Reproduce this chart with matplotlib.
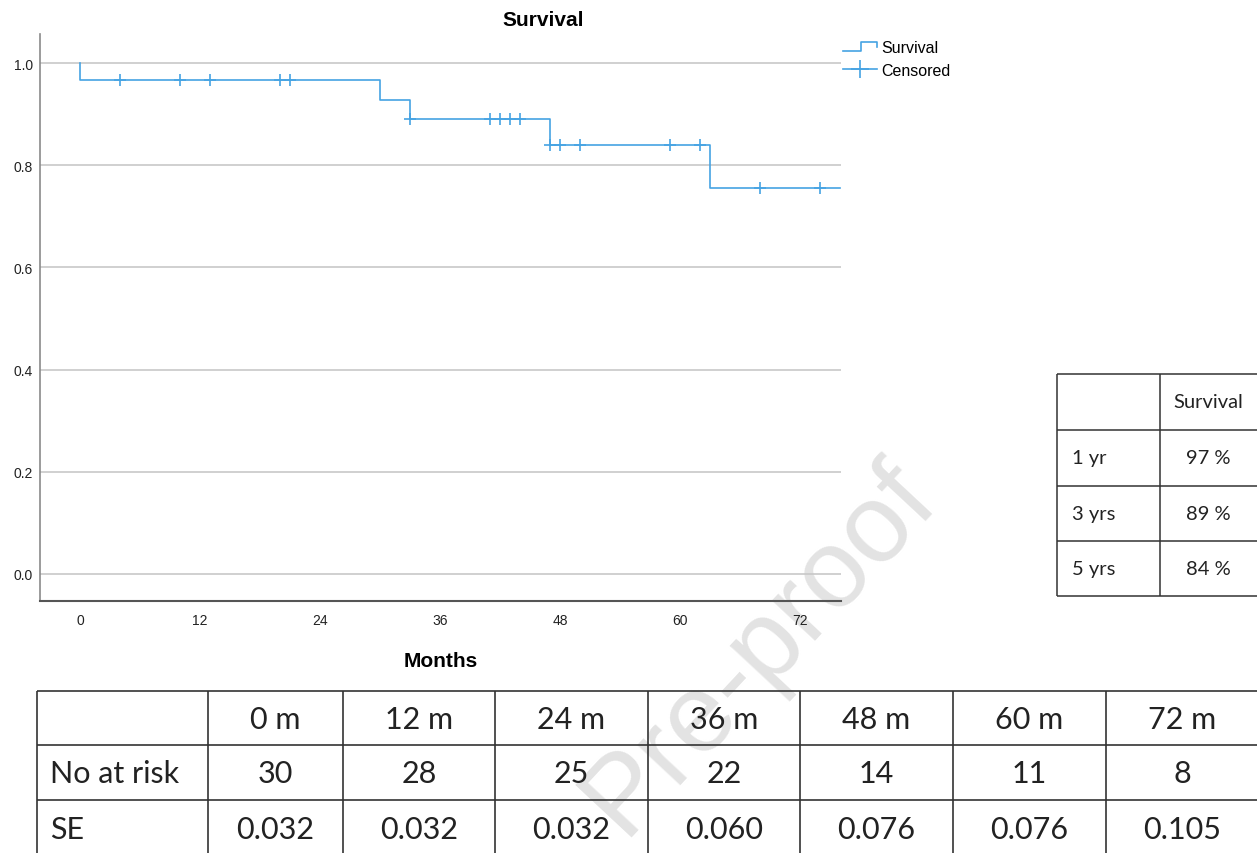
import numpy as np
import matplotlib
matplotlib.use("Agg")
import matplotlib.pyplot as plt
from matplotlib.legend_handler import HandlerBase
from matplotlib.lines import Line2D

# --- data ---
event_months = [0, 30, 33, 47, 63]
surv_after = [0.967, 0.928, 0.89, 0.84, 0.755]
last_month = 76
censor_months = [4, 10, 13, 20, 21, 33, 41, 42, 43, 44, 47, 48, 50, 59, 62, 68, 74]
x_ticks = [0, 12, 24, 36, 48, 60, 72]
y_ticks = [0.0, 0.2, 0.4, 0.6, 0.8, 1.0]

summary_head = "Survival"
summary_rows = ["1 yr", "3 yrs", "5 yrs"]
summary_vals = ["97 %", "89 %", "84 %"]

risk_cols = ["0 m", "12 m", "24 m", "36 m", "48 m", "60 m", "72 m"]
at_risk = [30, 28, 25, 22, 14, 11, 8]
se_vals = ["0.032", "0.032", "0.032", "0.060", "0.076", "0.076", "0.105"]

BLUE = "#45a3e3"
W, H = 1257, 854

fig = plt.figure(figsize=(W / 100, H / 100), dpi=100)

# overlay in pixel coords for the tables / watermark (kept under the plot)
ov = fig.add_axes([0, 0, 1, 1])
ov.set_xlim(0, W)
ov.set_ylim(H, 0)
ov.axis("off")
ov.set_zorder(0)

ax = fig.add_axes([40 / W, (H - 602) / H, (841 - 40) / W, (602 - 35) / H])
ax.set_zorder(1)
ax.set_facecolor("none")

# step curve
xs = [0] + event_months + [last_month]
ys = [1.0] + surv_after + [surv_after[-1]]
ax.step(xs, ys, where="post", color=BLUE, lw=1.2, zorder=3)

# censor marks sit on the curve
idx = np.searchsorted(event_months, censor_months, side="right") - 1
cy = [surv_after[i] if i >= 0 else 1.0 for i in idx]
ax.plot(censor_months, cy, ls="none", marker="+", ms=9, mew=1.2, color=BLUE, zorder=4)

ax.set_xlim(-4, 76.1)
ax.set_ylim(-27 / 511, 1 + 29 / 511)
ax.set_xticks(x_ticks)
ax.set_yticks(y_ticks)
ax.set_yticklabels([f"{v:.1f}" for v in y_ticks])
ax.tick_params(length=0, labelsize=10, colors="#222222")
ax.tick_params(axis="y", pad=5)
ax.tick_params(axis="x", pad=9)
for lab in ax.get_xticklabels() + ax.get_yticklabels():
    lab.set_family("Liberation Sans")
ax.yaxis.grid(True, color="#c8c8c8", lw=1.2)
ax.set_axisbelow(True)
for s in ("top", "right"):
    ax.spines[s].set_visible(False)
ax.spines["left"].set_color("#8a8a8a")
ax.spines["left"].set_linewidth(1.2)
ax.spines["bottom"].set_color("#555555")
ax.spines["bottom"].set_linewidth(1.5)

fig.text(543 / W, 1 - 20 / H, "Survival", ha="center", va="center",
         fontsize=15, fontweight="bold", family="Liberation Sans")
fig.text(441 / W, 1 - 662 / H, "Months", ha="center", va="center",
         fontsize=15, fontweight="bold", family="Liberation Sans")


# legend with a little step icon
class StepHandler(HandlerBase):
    def create_artists(self, legend, orig_handle, xdescent, ydescent,
                       width, height, fontsize, trans):
        x0 = -xdescent
        y0 = -ydescent
        px = [x0, x0 + 0.55 * width, x0 + 0.55 * width, x0 + width, x0 + width]
        py = [y0 + 0.1 * height, y0 + 0.1 * height, y0 + 0.9 * height,
              y0 + 0.9 * height, y0 + 0.45 * height]
        ln = Line2D(px, py, color=BLUE, lw=1.2, transform=trans)
        return [ln]


h_surv = Line2D([], [], color=BLUE)
h_cens = Line2D([], [], color=BLUE, lw=1.2, marker="+", ms=13, mew=1.2)
leg = ax.legend([h_surv, h_cens], ["Survival", "Censored"],
                handler_map={h_surv: StepHandler()},
                loc="upper left", bbox_to_anchor=(843 / W, 1 - 41 / H),
                bbox_transform=fig.transFigure, frameon=False,
                prop={"family": "Liberation Sans", "size": 11.5},
                handlelength=2.1, handletextpad=0.3, labelspacing=0.5,
                borderpad=0, borderaxespad=0)

# watermark
ov.text(760, 648, "Pre-proof", rotation=47, rotation_mode="anchor",
        ha="center", va="center", fontsize=80, color="#e3e3e3",
        family="Liberation Sans", zorder=0)

LC = "#333333"
TF = "Lato"

# right summary table
r_cols = [1057, 1160, 1262]
r_rows = [375, 431, 487, 542, 597]
ov.hlines(r_rows, r_cols[0], r_cols[-1], color=LC, lw=1.1, zorder=2)
ov.vlines(r_cols[:2], r_rows[0], r_rows[-1], color=LC, lw=1.1, zorder=2)
mid = lambda a, b: (a + b) / 2
ov.text(mid(r_cols[1], r_cols[2]) - 3, mid(r_rows[0], r_rows[1]), summary_head,
        ha="center", va="center", fontsize=14.5, family=TF, color="#222222")
for i, (lab, val) in enumerate(zip(summary_rows, summary_vals)):
    yc = mid(r_rows[i + 1], r_rows[i + 2])
    ov.text(r_cols[0] + 15, yc, lab, ha="left", va="center",
            fontsize=14.5, family=TF, color="#222222")
    ov.text(mid(r_cols[1], r_cols[2]) - 3, yc, val, ha="center", va="center",
            fontsize=14.5, family=TF, color="#222222")

# bottom risk table
b_cols = [37, 208, 343, 495, 648, 800, 953, 1106, 1259]
b_rows = [692, 746, 801, 857]
ov.hlines(b_rows, b_cols[0], W, color=LC, lw=1.2, zorder=2)
ov.vlines(b_cols, b_rows[0], b_rows[-1], color=LC, lw=1.2, zorder=2)
row_labels = ["", "No at risk", "SE"]
row_cells = [risk_cols, [str(v) for v in at_risk], se_vals]
for r in range(3):
    yc = mid(b_rows[r], b_rows[r + 1]) + 1
    ov.text(b_cols[0] + 13, yc, row_labels[r], ha="left", va="center",
            fontsize=22, family=TF, color="#222222")
    for c, txt in enumerate(row_cells[r]):
        ov.text(mid(b_cols[c + 1], b_cols[c + 2]), yc, txt, ha="center",
                va="center", fontsize=22, family=TF, color="#222222")

fig.savefig("out.png", dpi=100)
